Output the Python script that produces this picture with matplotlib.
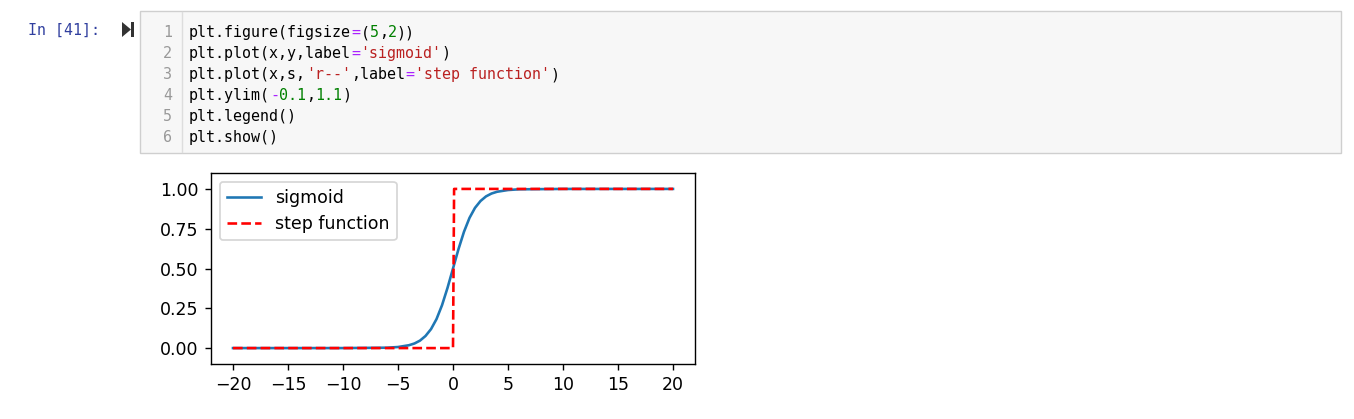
import matplotlib
matplotlib.use("Agg")
import matplotlib.pyplot as plt
from matplotlib.patches import Rectangle, Polygon

W, H = 1354, 419
DPI = 125

# sigmoid values
x_sig = [-20, -10, -6, -5, -4, -3.5, -3, -2.5, -2, -1.5, -1, -0.5, 0,
         0.5, 1, 1.5, 2, 2.5, 3, 3.5, 4, 5, 6, 10, 20]
y_sig = [0.0, 0.0001, 0.0025, 0.0067, 0.018, 0.029, 0.047, 0.076, 0.119, 0.182, 0.269, 0.378, 0.5,
         0.622, 0.731, 0.818, 0.881, 0.924, 0.953, 0.971, 0.982, 0.993, 0.9975, 0.9999, 1.0]

# step function
x_step = [-20, 0, 0.1, 20]
y_step = [0, 0, 1, 1]

# code cell text (segment, colour key)
code_lines = [
    [("plt.figure(figsize", "k"), ("=", "o"), ("(", "k"), ("5", "n"), (",", "k"), ("2", "n"), ("))", "k")],
    [("plt.plot(x,y,label", "k"), ("=", "o"), ("'sigmoid'", "s"), (")", "k")],
    [("plt.plot(x,s,", "k"), ("'r--'", "s"), (",label", "k"), ("=", "o"), ("'step function'", "s"), (")", "k")],
    [("plt.ylim(", "k"), ("-", "o"), ("0.1", "n"), (",", "k"), ("1.1", "n"), (")", "k")],
    [("plt.legend()", "k")],
    [("plt.show()", "k")],
]
colours = {"k": "#000000", "o": "#AA22FF", "n": "#008000", "s": "#BA2121"}


def fx(px):
    return px / W


def fy(py):
    return 1 - py / H


fig = plt.figure(figsize=(W / DPI, H / DPI), dpi=DPI)

# code cell box
fig.patches.append(Rectangle((fx(140), fy(153)), fx(1341) - fx(140), fy(11) - fy(153),
                             transform=fig.transFigure, facecolor="#f7f7f7",
                             edgecolor="#cfcfcf", linewidth=0.8))
fig.lines.append(plt.Line2D([fx(182), fx(182)], [fy(12), fy(152)],
                            transform=fig.transFigure, color="#dddddd", linewidth=0.8))

# prompt and run icon
mono = "DejaVu Sans Mono"
fs = 8.64
fig.text(fx(28), fy(35), "In [41]:", color="#303F9F", family=mono, fontsize=fs, va="baseline")
fig.patches.append(Polygon([(fx(122), fy(22)), (fx(122), fy(37)), (fx(131), fy(29.5))],
                           closed=True, transform=fig.transFigure, facecolor="#333333",
                           edgecolor="none"))
fig.patches.append(Rectangle((fx(131), fy(37)), fx(3), fy(22) - fy(37),
                             transform=fig.transFigure, facecolor="#333333", edgecolor="none"))

char_w = 0.602 * fs * DPI / 72
for i, segs in enumerate(code_lines):
    base = 37 + 21 * i
    fig.text(fx(172), fy(base), str(i + 1), color="#999999", family=mono,
             fontsize=fs, ha="right", va="baseline")
    col = 0
    for seg, key in segs:
        fig.text(fx(189 + col * char_w), fy(base), seg, color=colours[key],
                 family=mono, fontsize=fs, va="baseline")
        col += len(seg)

# the chart
ax = fig.add_axes([fx(211), fy(364), fx(695) - fx(211), fy(173) - fy(364)])
ax.plot(x_sig, y_sig, label="sigmoid")
ax.plot(x_step, y_step, "r--", label="step function")
ax.set_ylim(-0.1, 1.1)
ax.legend(loc="upper left")

fig.savefig("out.png", dpi=DPI)
